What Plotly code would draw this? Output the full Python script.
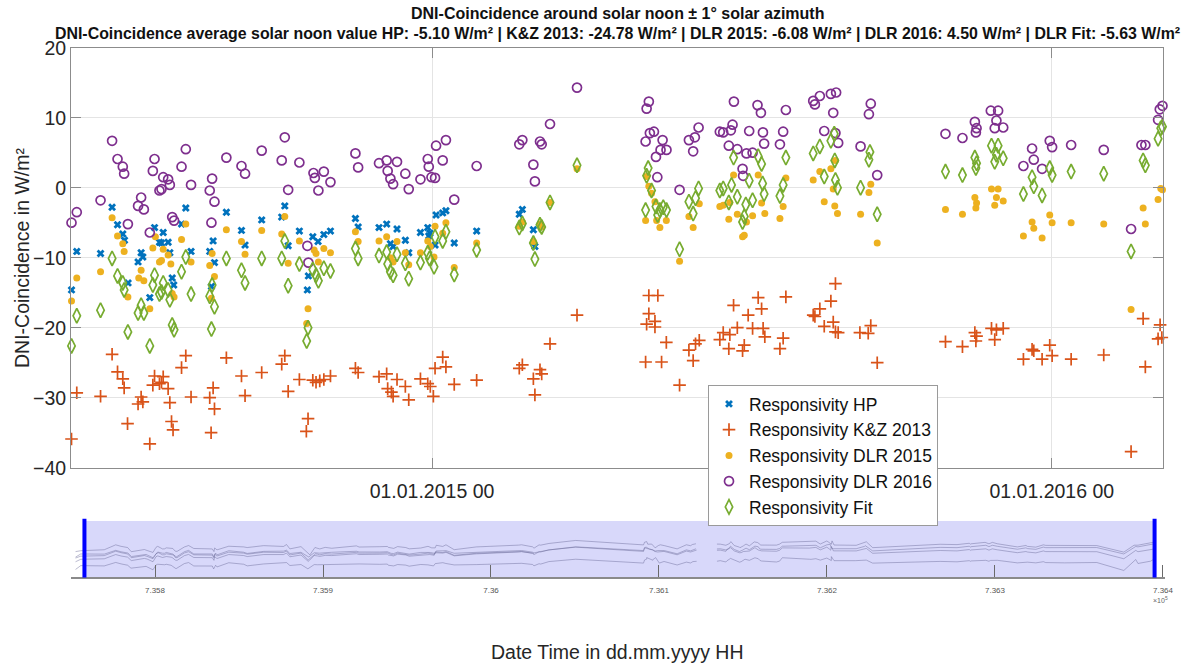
import plotly.graph_objects as go
import pandas as pd

# ---------------- data ----------------
BASE_DATE = "2015-01-01"
BASE_DATENUM = 735965          # MATLAB datenum of BASE_DATE

# day offsets (relative to BASE_DATE) and DNI-coincidence values in W/m²
hp_day = [-212.3, -209.2, -195.2, -188.4, -185.2, -182.1, -181.1, -179.0, -173.1, -171.3,
          -170.3, -166.2, -163.4, -160.5, -159.3, -158.3, -155.4, -154.4, -153.0, -152.1,
          -147.5, -145.0, -141.9, -130.9, -129.9, -128.9, -128.1, -121.1, -112.2, -110.1,
          -100.3, -88.5, -86.7, -84.7, -78.1, -73.4, -72.8, -70.2, -67.1, -63.7,
          -59.8, -45.1, -43.5, -31.2, -26.7, -24.5, -22.9, -20.6, -15.7, -13.7,
          -6.8, -2.5, -1.9, -1.2, 1.8, 2.4, 6.3, 8.2, 13.1, 26.3,
          51.4, 53.2, 59.7, 60.6]
hp_val = [-14.6, -9.1, -9.4, -2.8, -5.3, -6.6, -7.5, -13.6, -10.6, -9.3,
          -9.9, -15.7, -5.7, -7.8, -7.9, -6.4, -7.8, -9.3, -12.9, -13.9,
          -5.2, -2.9, -9.1, -9.1, -14.1, -7.6, -10.7, -3.5, -6.1, -8.2,
          -4.6, -4.2, -2.6, -8.3, -6.2, -14.6, -12.6, -7.0, -7.7, -6.7,
          -6.2, -4.4, -5.6, -5.7, -5.2, -8.0, -8.4, -5.9, -7.5, -9.3,
          -6.4, -5.7, -6.9, -6.5, -8.2, -3.9, -3.6, -3.3, -7.9, -6.2,
          -3.8, -3.1, -6.0, -8.4]

kz_day = [-212.3, -209.2, -195.2, -188.4, -185.2, -182.1, -181.3, -179.3, -173.1, -171.3,
          -170.3, -166.2, -164.4, -163.4, -160.5, -159.3, -158.3, -155.4, -154.4, -153.4,
          -152.5, -147.5, -145.0, -141.9, -130.9, -130.1, -128.9, -128.1, -121.1, -112.2,
          -110.1, -100.3, -88.5, -86.7, -84.7, -78.1, -74.0, -73.0, -70.2, -68.3,
          -66.1, -63.7, -59.8, -45.1, -43.5, -31.2, -26.7, -26.1, -23.9, -22.9,
          -20.6, -15.7, -13.7, -6.8, -2.5, -1.0, 0.8, 1.8, 6.3, 8.2,
          13.1, 26.3, 51.4, 53.2, 59.7, 60.6, 63.6, 64.6, 69.5, 85.4,
          125.8, 126.4, 127.7, 127.7, 131.3, 131.3, 133.0, 135.2, 138.0, 145.8,
          151.3, 153.8, 155.2, 157.4, 169.5, 171.5, 174.8, 175.4, 177.6, 179.8,
          182.9, 183.9, 186.2, 188.8, 192.1, 194.1, 195.0, 196.0, 204.9, 206.8,
          208.4, 224.5, 225.5, 228.4, 231.0, 234.9, 236.3, 237.6, 237.6, 239.2,
          252.0, 256.9, 258.4, 262.2, 302.4, 312.4, 319.7, 320.3, 320.7, 329.5,
          331.4, 332.4, 336.4, 348.3, 353.4, 354.4, 359.3, 363.8, 365.2, 376.4,
          395.6, 411.7, 418.8, 420.1, 427.6, 428.8, 429.8]
kz_val = [-35.9, -29.3, -29.8, -23.8, -26.3, -27.3, -28.6, -33.7, -30.9, -29.9,
          -30.6, -36.6, -28.2, -26.9, -28.0, -27.8, -27.0, -28.7, -30.7, -33.4,
          -34.6, -25.7, -24.0, -29.9, -30.0, -35.0, -28.6, -31.6, -24.3, -26.9,
          -29.7, -26.4, -25.2, -24.0, -29.1, -27.4, -34.8, -33.0, -27.5, -27.8,
          -27.6, -27.4, -26.9, -25.8, -26.4, -27.0, -26.6, -28.7, -29.2, -29.8,
          -27.4, -28.4, -30.3, -27.3, -28.0, -28.4, -29.8, -25.8, -24.2, -25.6,
          -28.1, -27.5, -25.8, -25.3, -27.3, -29.6, -26.0, -26.6, -22.3, -18.2,
          -24.9, -19.5, -15.4, -18.0, -19.1, -19.9, -15.4, -24.9, -22.1, -28.2,
          -23.2, -24.7, -22.3, -21.8, -21.7, -20.7, -23.0, -21.0, -16.8, -20.0,
          -23.3, -22.5, -18.2, -20.1, -15.7, -17.3, -20.1, -21.3, -23.0, -21.5,
          -15.6, -18.2, -18.4, -17.3, -19.8, -16.2, -19.2, -13.7, -20.6, -20.7,
          -20.7, -20.8, -19.7, -25.0, -22.0, -22.7, -20.7, -21.9, -21.2, -20.1,
          -21.7, -20.3, -20.1, -24.5, -23.1, -23.3, -24.5, -22.5, -24.0, -24.5,
          -23.9, -37.7, -18.7, -25.6, -21.6, -19.6, -21.4]

dlr15_day = [-212.3, -209.2, -195.2, -188.4, -185.2, -182.1, -181.3, -179.1, -172.7, -171.3,
             -169.7, -166.2, -164.4, -162.9, -160.5, -159.3, -158.3, -155.4, -153.8, -153.0,
             -151.9, -147.5, -145.0, -141.9, -130.9, -129.9, -129.5, -128.1, -121.1, -112.2,
             -110.1, -100.3, -88.5, -86.7, -84.7, -78.1, -73.8, -73.0, -69.4, -68.3,
             -66.9, -63.7, -59.8, -45.1, -43.5, -31.2, -26.7, -24.5, -22.9, -20.6,
             -15.7, -13.7, -6.8, -2.5, -1.0, 1.2, 1.8, 6.3, 8.2, 13.1,
             26.3, 51.4, 53.2, 59.7, 63.6, 64.6, 69.5, 85.4, 125.8, 126.4,
             127.7, 129.3, 131.3, 132.3, 134.2, 138.0, 145.8, 151.3, 153.8, 157.4,
             169.5, 171.5, 174.8, 175.4, 177.6, 179.8, 182.9, 183.9, 185.2, 188.8,
             192.1, 194.1, 196.0, 204.9, 206.8, 208.4, 224.5, 228.4, 231.0, 234.9,
             236.3, 237.2, 237.6, 238.8, 252.4, 257.3, 258.4, 262.2, 302.4, 312.4,
             319.7, 320.3, 320.7, 329.5, 331.4, 332.4, 333.4, 336.4, 348.3, 353.4,
             354.4, 359.3, 363.8, 365.2, 376.4, 395.6, 411.7, 418.8, 420.1, 427.6,
             429.2, 430.2]
dlr15_val = [-16.2, -12.9, -12.0, -4.3, -6.9, -8.0, -9.1, -15.6, -12.9, -11.8,
             -13.3, -17.3, -8.6, -7.0, -10.6, -10.4, -8.8, -9.6, -10.9, -15.1,
             -15.6, -7.4, -5.2, -10.6, -11.1, -15.8, -9.4, -12.7, -6.0, -7.7,
             -9.5, -6.1, -6.6, -4.1, -10.8, -7.6, -19.4, -17.3, -8.9, -9.4,
             -10.6, -8.7, -9.3, -6.3, -7.7, -7.6, -7.0, -10.0, -10.6, -7.7,
             -9.3, -11.0, -9.3, -7.6, -8.4, -9.9, -5.5, -6.5, -5.0, -11.4,
             -7.9, -5.5, -4.9, -7.7, -5.2, -5.6, -2.1, 2.7, -4.7, 1.6,
             0.2, -0.8, -2.0, -4.7, -5.7, -4.7, -10.5, -4.1, -5.7, -2.3,
             -2.7, -2.5, -4.5, -2.1, 1.8, -3.8, -7.0, -6.8, -4.9, -4.0,
             1.8, -2.2, -3.7, -4.4, -2.7, 1.4, 1.1, 2.3, -2.0, 2.7,
             -0.2, -2.6, 3.9, -3.7, -3.8, -0.7, 0.5, -7.9, -3.1, -3.8,
             -1.4, -2.9, -2.2, -0.2, -2.5, -1.4, -0.2, -1.9, -6.9, -4.9,
             -5.8, -7.2, -3.9, -5.0, -5.0, -5.2, -17.4, -2.9, -5.2, -1.7,
             -0.1, -0.3]

dlr16_day = [-212.3, -209.2, -195.2, -188.4, -185.2, -182.1, -181.3, -179.1, -173.1, -171.3,
             -169.7, -166.2, -164.4, -163.4, -160.5, -159.3, -158.3, -155.4, -154.4, -153.0,
             -151.9, -147.5, -145.0, -141.9, -130.9, -129.9, -129.5, -128.1, -121.1, -112.2,
             -110.1, -100.3, -88.5, -86.7, -84.7, -78.1, -73.4, -72.8, -69.8, -69.0,
             -66.9, -63.7, -59.8, -45.1, -43.5, -31.2, -26.7, -26.1, -24.5, -22.9,
             -20.6, -15.7, -13.7, -6.8, -2.5, -1.9, -0.3, 1.8, 2.4, 6.3,
             8.2, 13.1, 26.3, 51.4, 53.2, 59.7, 60.6, 63.6, 64.6, 69.5,
             85.4, 125.8, 126.4, 127.7, 128.3, 130.7, 131.9, 132.7, 134.6, 135.8,
             138.1, 145.8, 151.3, 153.8, 154.8, 157.0, 169.5, 171.5, 174.8, 176.0,
             177.0, 177.8, 179.8, 182.9, 183.2, 185.2, 186.8, 188.8, 191.7, 193.7,
             194.9, 195.6, 204.9, 206.8, 208.4, 224.5, 225.5, 228.4, 231.0, 234.9,
             236.3, 237.6, 238.0, 239.2, 252.4, 257.3, 258.4, 262.2, 302.4, 312.4,
             319.7, 320.3, 320.7, 329.1, 331.4, 332.4, 333.4, 336.4, 348.3, 353.4,
             354.4, 359.3, 363.8, 365.2, 376.4, 395.6, 411.7, 417.8, 420.1, 427.6,
             428.6, 430.2]
dlr16_val = [-5.0, -3.5, -1.8, 6.7, 4.1, 3.0, 2.0, -5.2, -2.6, -1.4,
             -3.1, -6.4, 2.4, 4.1, -0.4, -0.2, 1.5, 1.2, 0.4, -4.2,
             -4.7, 3.0, 5.5, 0.4, -0.4, -5.0, 1.3, -2.0, 4.3, 3.1,
             2.0, 5.3, 3.9, 7.2, -0.3, 3.6, -8.3, -10.7, 2.1, 1.4,
             -0.4, 2.3, 0.8, 4.9, 2.9, 3.5, 3.9, 2.4, 1.3, 0.5,
             3.7, 2.0, -0.2, 1.2, 4.1, 3.0, 1.5, 1.4, 6.0, 3.9,
             6.8, -1.7, 3.1, 6.2, 6.8, 3.3, 0.9, 6.6, 6.2, 9.1,
             14.3, 6.6, 11.3, 12.3, 7.8, 8.0, 4.4, 1.5, 5.4, 6.8,
             5.4, -0.3, 6.8, 5.2, 7.2, 8.6, 8.0, 7.9, 6.0, 8.2,
             9.0, 12.3, 5.5, 2.7, 1.7, 4.9, 8.1, 5.0, 11.8, 10.7,
             7.9, 6.3, 6.2, 8.0, 11.1, 12.4, 11.9, 13.1, 8.1, 13.4,
             10.7, 7.8, 13.6, 6.4, 5.9, 10.5, 12.0, 1.8, 7.7, 7.1,
             9.4, 7.9, 8.5, 11.0, 8.5, 9.6, 11.0, 8.6, 3.1, 5.6,
             4.0, 2.7, 6.7, 5.8, 6.1, 5.4, -5.9, 6.1, 6.1, 9.7,
             11.2, 11.7]

fit_day = [-212.3, -209.2, -195.2, -188.4, -185.2, -182.1, -181.3, -179.1, -173.1, -171.3,
           -169.7, -166.2, -164.4, -163.4, -160.5, -159.3, -158.3, -155.4, -154.4, -153.0,
           -151.9, -147.5, -145.0, -141.9, -130.9, -129.9, -129.5, -128.1, -121.1, -112.2,
           -110.1, -100.3, -88.5, -86.7, -84.7, -78.1, -73.8, -73.0, -70.2, -68.3,
           -66.9, -63.7, -59.8, -45.1, -43.5, -31.2, -26.7, -26.1, -24.5, -22.9,
           -20.6, -15.7, -13.7, -6.8, -2.5, -1.5, 1.2, 1.8, 6.3, 8.2,
           13.1, 26.3, 51.4, 53.2, 59.7, 60.6, 63.6, 64.6, 69.5, 85.4,
           125.8, 126.4, 127.3, 129.3, 131.9, 132.9, 134.2, 136.2, 138.1, 145.8,
           151.3, 153.8, 155.2, 157.0, 169.5, 171.5, 174.8, 176.4, 177.6, 179.8,
           182.9, 183.9, 184.8, 186.8, 188.8, 192.1, 194.1, 194.7, 195.6, 204.9,
           206.8, 208.4, 224.5, 228.4, 231.0, 234.9, 236.9, 237.2, 237.6, 238.8,
           252.4, 257.3, 257.9, 262.2, 302.4, 312.4, 319.7, 320.3, 320.7, 329.5,
           331.4, 332.4, 333.4, 336.4, 348.3, 353.4, 354.4, 359.3, 363.8, 365.2,
           376.4, 395.6, 411.7, 418.8, 420.1, 427.6, 429.2, 430.2]
fit_val = [-22.6, -18.3, -17.5, -10.1, -12.6, -13.6, -14.6, -20.6, -17.9, -16.8,
           -17.9, -22.6, -13.9, -12.5, -15.2, -14.9, -13.6, -14.6, -16.0, -19.6,
           -20.3, -12.0, -9.9, -15.2, -15.5, -20.2, -13.9, -17.0, -10.1, -11.8,
           -13.6, -10.1, -10.1, -7.6, -14.0, -10.9, -21.9, -20.0, -11.7, -12.5,
           -13.3, -11.5, -11.9, -8.7, -10.1, -9.7, -9.2, -10.9, -12.0, -12.5,
           -9.5, -10.8, -13.0, -10.7, -9.3, -10.1, -11.3, -7.0, -7.6, -6.3,
           -12.4, -8.9, -5.7, -5.1, -7.9, -10.2, -5.3, -5.6, -2.1, 3.2,
           -3.2, 1.7, 2.8, -0.4, -2.7, -3.9, -3.2, -2.8, -3.2, -8.8,
           -2.0, -3.7, -1.5, -0.1, -0.4, -0.1, -2.1, 0.4, 4.3, -1.3,
           -4.9, -4.1, -2.4, 1.0, -1.8, 4.5, 3.4, 0.6, -0.9, -1.2,
           0.4, 4.3, 4.9, 5.9, 1.6, 6.7, 7.7, 3.9, 1.1, 0.0,
           0.0, 4.0, 5.1, -3.8, 2.3, 1.8, 4.3, 2.8, 3.5, 6.0,
           3.7, 4.7, 6.0, 4.2, -0.9, 1.5, 0.2, -1.1, 2.8, 1.8,
           2.3, 2.0, -9.1, 3.9, 3.2, 7.0, 8.5, 8.7]

series_names = ["Responsivity HP", "Responsivity K&Z 2013", "Responsivity DLR 2015",
                "Responsivity DLR 2016", "Responsivity Fit"]
x_tick_dates = ["2015-01-01", "2016-01-01"]
x_tick_text = ["01.01.2015 00", "01.01.2016 00"]
y_ticks = [-40, -30, -20, -10, 0, 10, 20]
preview_ticks = [735800, 735900, 736000, 736100, 736200, 736300, 736400]
preview_selection = [735758, 736395]     # datenum window of range selector
preview_gap_days = [158.0, 169.0]        # missing data in overview line

title_1 = "DNI-Coincidence around solar noon \u00b1 1\u00b0 solar azimuth"
title_2 = ("DNI-Coincidence average solar noon value HP: -5.10 W/m\u00b2 | K&Z 2013: -24.78 W/m\u00b2 | "
           "DLR 2015: -6.08 W/m\u00b2 | DLR 2016: 4.50 W/m\u00b2 | DLR Fit: -5.63 W/m\u00b2")

# ---------------- styling ----------------
W, H = 1191, 669
FONT = "Liberation Sans, Arial, Helvetica, sans-serif"
colors = ["#0072BD", "#D95319", "#EDB120", "#7E2F8E", "#77AC30"]
markers = [
    dict(symbol="x", size=7, color=colors[0], line=dict(width=0)),
    dict(symbol="cross-thin", size=9, color=colors[1], line=dict(width=1.7, color=colors[1])),
    dict(symbol="circle", size=7, color=colors[2], line=dict(width=0)),
    dict(symbol="circle-open", size=9, color=colors[3], line=dict(width=1.7, color=colors[3])),
    dict(symbol="diamond-tall-open", size=10.5, color=colors[4], line=dict(width=1.7, color=colors[4])),
]

all_days = [hp_day, kz_day, dlr15_day, dlr16_day, fit_day]
all_vals = [hp_val, kz_val, dlr15_val, dlr16_val, fit_val]
for d, v in zip(all_days, all_vals):
    assert len(d) == len(v), (len(d), len(v))

base = pd.Timestamp(BASE_DATE)


def to_dates(days):
    return [base + pd.Timedelta(days=float(d)) for d in days]


fig = go.Figure()

for name, d, v, m in zip(series_names, all_days, all_vals, markers):
    fig.add_trace(go.Scatter(x=to_dates(d), y=v, mode="markers", name=name, marker=m,
                             cliponaxis=False, xaxis="x", yaxis="y"))

# overview (range selector) lines
for d, v in zip(all_days, all_vals):
    pairs = sorted(zip(d, v))
    xs, ys = [], []
    prev = None
    for dd, vv in pairs:
        if prev is not None and prev < preview_gap_days[0] and dd > preview_gap_days[1]:
            xs.append(None)
            ys.append(None)
        xs.append(BASE_DATENUM + dd)
        ys.append(vv)
        prev = dd
    fig.add_trace(go.Scatter(x=xs, y=ys, mode="lines", showlegend=False, hoverinfo="skip",
                             line=dict(color="rgba(105,105,150,0.45)", width=1),
                             xaxis="x2", yaxis="y2", connectgaps=False))

dmin = min(min(d) for d in all_days)
dmax = max(max(d) for d in all_days)
x_range = [base + pd.Timedelta(days=dmin - 0.3), base + pd.Timedelta(days=dmax + 0.3)]

x0p, x1p = 71 / W, 1163 / W
axis_col = "#8c8c8c"
grid_col = "#e4e4e4"

fig.update_layout(
    width=W, height=H,
    margin=dict(l=0, r=0, t=0, b=0, autoexpand=False),
    paper_bgcolor="white", plot_bgcolor="white",
    font=dict(family=FONT, color="#262626"),
    showlegend=True,
    legend=dict(x=708 / W, y=(H - 385) / H, xanchor="left", yanchor="top",
                bgcolor="white", bordercolor="#9a9a9a", borderwidth=1,
                font=dict(size=17.5, family=FONT, color="#111111"),
                tracegroupgap=0),
    xaxis=dict(domain=[x0p, x1p], type="date", range=x_range, automargin=False,
               tickvals=x_tick_dates, ticktext=x_tick_text,
               ticks="inside", ticklen=10, tickcolor=axis_col,
               showline=True, linecolor=axis_col, linewidth=1, mirror="ticks",
               showgrid=True, gridcolor=grid_col, zeroline=False,
               tickfont=dict(size=19.5, family=FONT, color="#262626"),
               ticklabelstandoff=6),
    yaxis=dict(domain=[(H - 467.7) / H, (H - 47.7) / H], range=[-40, 20], automargin=False,
               tickvals=y_ticks, ticks="inside", ticklen=10, tickcolor=axis_col,
               showline=True, linecolor=axis_col, linewidth=1, mirror="ticks",
               showgrid=True, gridcolor=grid_col, zeroline=False,
               tickfont=dict(size=19.5, family=FONT, color="#262626")),
    xaxis2=dict(domain=[x0p, 1165 / W], anchor="y2", range=[735750, 736401.2], automargin=False,
                tickvals=preview_ticks, ticktext=[f"{t / 1e5:g}" for t in preview_ticks],
                ticks="inside", ticklen=12, tickcolor="#6a6a6a", tickwidth=1,
                showline=True, linecolor="#8a8a8a", linewidth=2,
                showgrid=False, zeroline=False,
                tickfont=dict(size=8, family=FONT, color="#555555"),
                ticklabelstandoff=4),
    yaxis2=dict(domain=[(H - 577) / H, (H - 521) / H], anchor="x2", range=[-49, 48],
                visible=False, showgrid=False, zeroline=False, automargin=False),
)

fig.add_shape(type="rect", xref="x2", yref="y2 domain",
              x0=preview_selection[0], x1=preview_selection[1], y0=0, y1=1,
              fillcolor="rgb(216,216,250)", line=dict(width=0), layer="below")
for xs in preview_selection:
    fig.add_shape(type="line", xref="x2", yref="y2 domain", x0=xs, x1=xs, y0=-0.01, y1=1.04,
                  line=dict(color="rgb(0,0,255)", width=4), layer="above")

fig.add_annotation(text="\u00d710<sup>5</sup>", xref="paper", yref="paper",
                   x=1160 / W, y=(H - 600) / H, xanchor="center", yanchor="middle",
                   showarrow=False, font=dict(size=7, family=FONT, color="#666666"))

# titles & axis labels
fig.add_annotation(text="<b>" + title_1 + "</b>", xref="paper", yref="paper",
                   x=617.5 / W, y=(H - 14) / H, xanchor="center", yanchor="middle",
                   showarrow=False, font=dict(size=16, family=FONT, color="#111111"))
fig.add_annotation(text="<b>" + title_2.replace("&", "&amp;") + "</b>", xref="paper", yref="paper",
                   x=617.5 / W, y=(H - 33) / H, xanchor="center", yanchor="middle",
                   showarrow=False, font=dict(size=15.9, family=FONT, color="#111111"))
fig.add_annotation(text="DNI-Coincidence in W/m\u00b2", xref="paper", yref="paper",
                   x=22 / W, y=(H - 258) / H, xanchor="center", yanchor="middle",
                   textangle=-90, showarrow=False,
                   font=dict(size=19.5, family=FONT, color="#262626"))
fig.add_annotation(text="Date Time in dd.mm.yyyy HH", xref="paper", yref="paper",
                   x=617 / W, y=(H - 652) / H, xanchor="center", yanchor="middle",
                   showarrow=False, font=dict(size=19.5, family=FONT, color="#262626"))

fig.write_html("out.html")
